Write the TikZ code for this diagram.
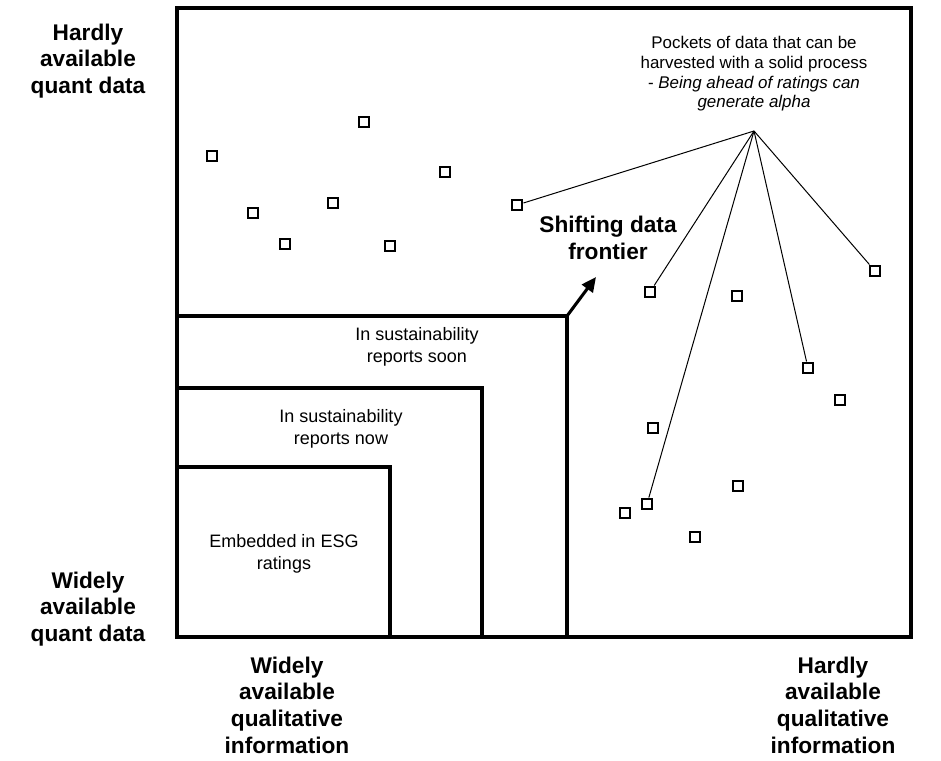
\documentclass[tikz,border=0pt]{standalone}
\usepackage{fontspec}
\setmainfont{Liberation Sans}
\usetikzlibrary{arrows.meta,positioning}

\tikzset{
  datapt/.style={draw,line width=1.9pt,minimum size=7.8pt,inner sep=0pt},
  axislabel/.style={align=center,font=\fontsize{17}{20}\selectfont\bfseries},
  boxtext/.style={align=center,font=\fontsize{13.5}{17}\selectfont},
  frame/.style={line width=2.3pt}
}

\begin{document}
\begin{tikzpicture}[x=0.75pt,y=-0.75pt]
\useasboundingbox (0,0) rectangle (941,760);
% outer frame and nested layers
\draw[frame] (177,8) rectangle (911,637);
\draw[frame] (177,637) |- (567,316) coordinate(soon) -- (567,637);
\draw[frame] (177,637) |- (482,388) -- (482,637);
\draw[frame] (177,637) |- (390,467) -- (390,637);
\node[boxtext] (tsoon) at (417,347) {In sustainability\\reports soon};
\node[boxtext] (tnow) at (341,429) {In sustainability\\reports now};
\node[boxtext] (tesg) at (284,554) {Embedded in ESG\\ratings};
% data points
\foreach \n/\x/\y in {a1/212/156,a2/253/213,a3/285/244,a4/333/203,a5/364/122,
    a6/390/246,a7/445/172,a8/517/205,b1/650/292,b2/737/296,b3/875/271,
    b4/808/368,b5/840/400,b6/653/428,b7/738/486,b8/647/504,b9/625/513,b10/695/537}
  \node[datapt] (\n) at (\x,\y) {};
% pockets
\node[boxtext,font=\fontsize{12.7}{14.7}\selectfont] (pockets) at (754,74) {Pockets of data that can be\\harvested with a solid process\\- \textit{Being ahead of ratings can}\\\textit{generate alpha}};
\coordinate (hub) at (754,131);
\foreach \n in {a8,b1,b8,b4,b3}
  \draw[line width=0.75pt] (hub) -- (\n);
% frontier
\node[axislabel] (front) at (608,238) {Shifting data\\frontier};
\draw[line width=2.3pt,-{Triangle[length=11pt,width=10pt]}] (soon) -- (596,277);
% axes
\node[axislabel] (hq) at (88,61) {Hardly\\available\\quant data};
\node[axislabel] (wq) at (88,609) {Widely\\available\\quant data};
\node[axislabel] (wql) at (287,705) {Widely\\available\\qualitative\\information};
\node[axislabel] (hql) at (833,705) {Hardly\\available\\qualitative\\information};
\end{tikzpicture}
\end{document}
